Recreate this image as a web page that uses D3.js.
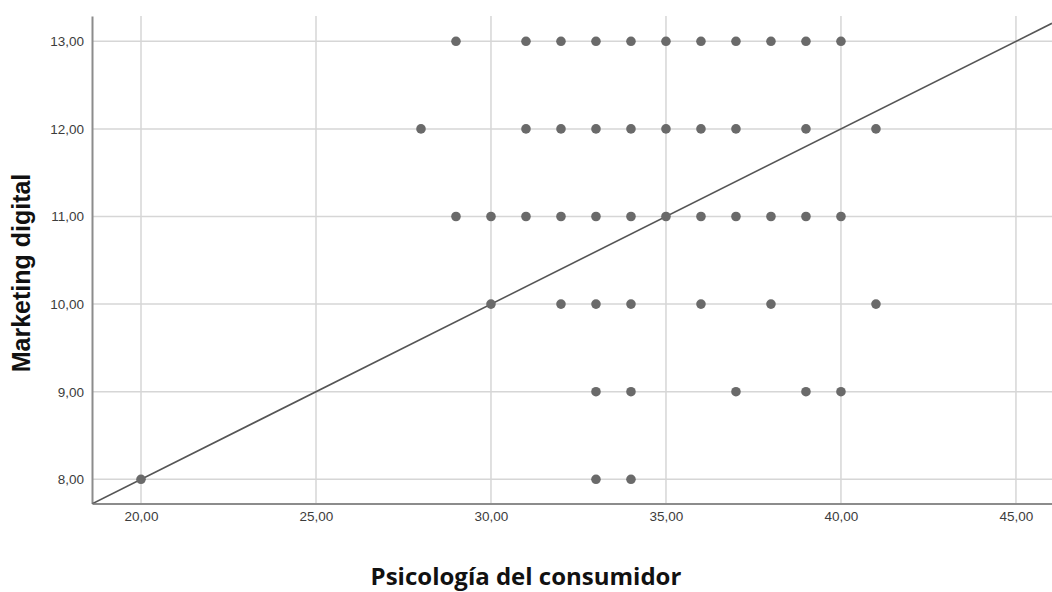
<!DOCTYPE html>
<html>
<head>
<meta charset="utf-8">
<script src="https://cdn.jsdelivr.net/npm/d3@7"></script>
<style>
  html, body { margin: 0; padding: 0; background: #fff; }
  svg { display: block; }
</style>
</head>
<body>
<svg id="chart" width="1052" height="592"></svg>
<script>
  // observed (x = Psicología del consumidor, y = Marketing digital)
  const rows13 = [29, 31, 32, 33, 34, 35, 36, 37, 38, 39, 40];
  const rows12 = [28, 31, 32, 33, 34, 35, 36, 37, 39, 41];
  const rows11 = [29, 30, 31, 32, 33, 34, 35, 36, 37, 38, 39, 40];
  const rows10 = [30, 32, 33, 34, 36, 38, 41];
  const rows9 = [33, 34, 37, 39, 40];
  const rows8 = [20, 33, 34];

  const xTicks = [20, 25, 30, 35, 40, 45];
  const yTicks = [8, 9, 10, 11, 12, 13];
  const fitLine = { intercept: 4, slope: 0.2 };

  (function () {
    'use strict';

    const points = [];
    [[13, rows13], [12, rows12], [11, rows11], [10, rows10], [9, rows9], [8, rows8]]
      .forEach(function (r) {
        r[1].forEach(function (x) { points.push({ x: x, y: r[0] }); });
      });

    const fmt = function (v) { return d3.format('.2f')(v).replace('.', ','); };

    const svg = d3.select('#chart');
    const plotL = 92, plotR = 1052, plotT = 16, plotB = 503.5;
    const xDomain = [18.6, 46.03];
    const yDomain = [7.724, 13.289];
    const x = d3.scaleLinear().domain(xDomain).range([plotL, plotR]);
    const y = d3.scaleLinear().domain(yDomain).range([plotB, plotT]);

    // grid
    svg.append('g').selectAll('line')
      .data(xTicks)
      .join('line')
      .attr('x1', function (d) { return x(d); })
      .attr('x2', function (d) { return x(d); })
      .attr('y1', plotT).attr('y2', plotB)
      .attr('stroke', '#d6d6d6').attr('stroke-width', 1.5);
    svg.append('g').selectAll('line')
      .data(yTicks)
      .join('line')
      .attr('y1', function (d) { return y(d); })
      .attr('y2', function (d) { return y(d); })
      .attr('x1', plotL).attr('x2', plotR)
      .attr('stroke', '#d6d6d6').attr('stroke-width', 1.5);

    // axes
    const xAxis = svg.append('g')
      .attr('transform', 'translate(0,' + plotB + ')')
      .call(d3.axisBottom(x).tickValues(xTicks).tickFormat(fmt).tickSize(0).tickPadding(8));
    const yAxis = svg.append('g')
      .attr('transform', 'translate(' + plotL + ',0)')
      .call(d3.axisLeft(y).tickValues(yTicks).tickFormat(fmt).tickSize(0).tickPadding(8));
    [xAxis, yAxis].forEach(function (a) {
      a.select('.domain').attr('stroke', '#8c8c8c').attr('stroke-width', 2);
      a.selectAll('text')
        .attr('fill', '#3c3c3c')
        .style('font-family', 'Arial, "Liberation Sans", sans-serif')
        .style('font-size', '13.5px');
    });

    // clip for fit line
    svg.append('clipPath').attr('id', 'plot-clip')
      .append('rect').attr('x', plotL).attr('y', plotT)
      .attr('width', plotR - plotL).attr('height', plotB - plotT);

    const lineGen = d3.line()
      .x(function (d) { return x(d); })
      .y(function (d) { return y(fitLine.intercept + fitLine.slope * d); });
    svg.append('path')
      .attr('clip-path', 'url(#plot-clip)')
      .attr('d', lineGen(xDomain))
      .attr('fill', 'none')
      .attr('stroke', '#555')
      .attr('stroke-width', 1.6);

    svg.append('g').selectAll('circle')
      .data(points)
      .join('circle')
      .attr('cx', function (d) { return x(d.x); })
      .attr('cy', function (d) { return y(d.y); })
      .attr('r', 4.8)
      .attr('fill', '#6a6a6a');

    // titles
    svg.append('text')
      .attr('transform', 'translate(30,273) rotate(-90)')
      .attr('text-anchor', 'middle')
      .style('font-family', 'Arial, "Liberation Sans", sans-serif')
      .style('font-weight', 'bold')
      .style('font-size', '25px')
      .attr('fill', '#111')
      .text('Marketing digital');
    svg.append('text')
      .attr('x', 526).attr('y', 585)
      .attr('text-anchor', 'middle')
      .style('font-family', '"Open Sans", sans-serif')
      .style('font-weight', 'bold')
      .style('font-size', '24px')
      .attr('fill', '#111')
      .text('Psicología del consumidor');
  })();
</script>
</body>
</html>
